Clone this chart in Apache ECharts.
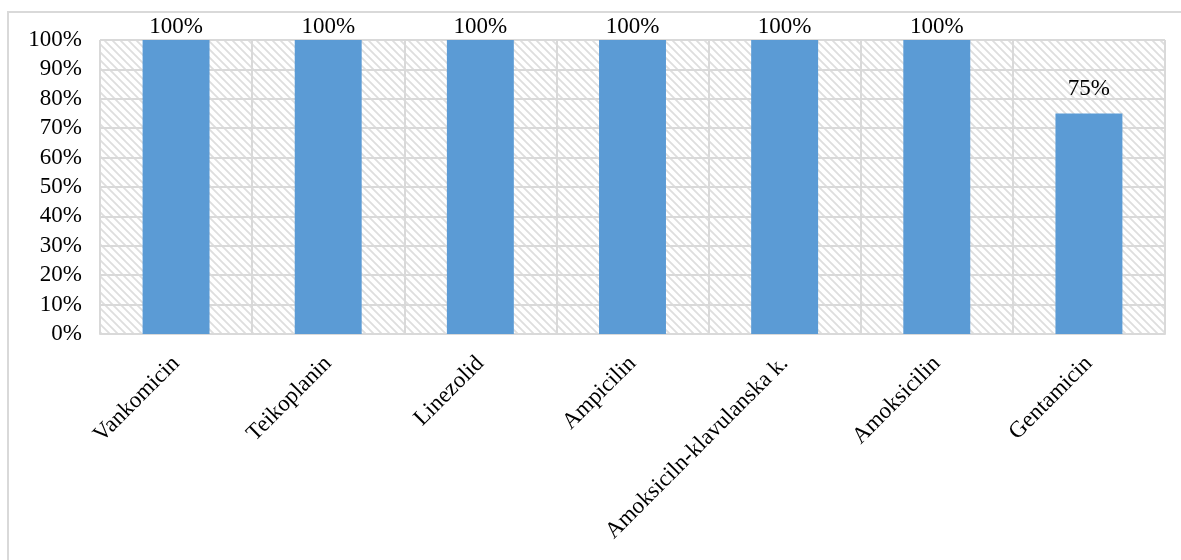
<!DOCTYPE html>
<html><head><meta charset="utf-8">
<script src="https://cdn.jsdelivr.net/npm/echarts@6/dist/echarts.min.js"></script>
<style>html,body{margin:0;padding:0;background:#fff}#c{width:1181px;height:560px}</style>
</head><body><div id="c"></div>
<script>
var categories = ['Vankomicin','Teikoplanin','Linezolid','Ampicilin','Amoksiciln-klavulanska k.','Amoksicilin','Gentamicin'];
var values = [100,100,100,100,100,100,75];
var yTicks = [0,10,20,30,40,50,60,70,80,90,100];

var pc = document.createElement('canvas');
pc.width = 8; pc.height = 8;
var ctx = pc.getContext('2d');
ctx.fillStyle = '#ffffff'; ctx.fillRect(0,0,8,8);
ctx.strokeStyle = '#dedede'; ctx.lineWidth = 1.8;
ctx.beginPath();
ctx.moveTo(-2,-2); ctx.lineTo(10,10);
ctx.moveTo(-2,6); ctx.lineTo(2,10);
ctx.moveTo(6,-2); ctx.lineTo(10,2);
ctx.stroke();

var font = 'Liberation Serif';
var chart = echarts.init(document.getElementById('c'));
chart.setOption({
  animation:false,
  graphic:[{type:'rect',shape:{x:8,y:12,width:1200,height:600},style:{fill:'none',stroke:'#d9d9d9',lineWidth:2},silent:true}],
  grid:{left:100,right:16,top:40,bottom:226,show:true,backgroundColor:{image:pc,repeat:'repeat'},borderWidth:0},
  xAxis:{type:'category',data:categories,
    axisLine:{show:true,lineStyle:{color:'#d9d9d9',width:2}},axisTick:{show:false},
    splitLine:{show:true,interval:0,lineStyle:{color:'#d9d9d9',width:2}},
    axisLabel:{interval:0,rotate:45,margin:26,color:'#000',fontFamily:font,fontSize:23}},
  yAxis:{type:'value',min:0,max:100,interval:10,
    axisLine:{show:false},axisTick:{show:false},
    splitLine:{lineStyle:{color:'#d9d9d9',width:2}},
    axisLabel:{margin:18,color:'#000',fontFamily:font,fontSize:23,formatter:function(v){return yTicks.indexOf(v)>=0?v+'%':'';}}},
  series:[{type:'bar',data:values.map(function(v){return {value:v,label:{distance:v<100?13:2}};}),barWidth:'44%',itemStyle:{color:'#5b9bd5'},
    label:{show:true,position:'top',color:'#000',fontFamily:font,fontSize:23,formatter:'{c}%'}}]
});
</script></body></html>
